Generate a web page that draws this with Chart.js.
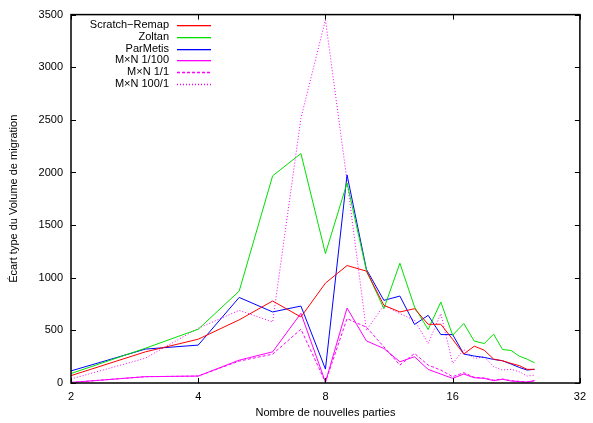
<!DOCTYPE html>
<html>
<head>
<meta charset="utf-8">
<script src="https://cdn.jsdelivr.net/npm/chart.js@4"></script>
<style>
  html, body { margin: 0; padding: 0; background: #fff; }
  canvas { display: block; }
</style>
</head>
<body>
<canvas id="chart" width="593" height="423"></canvas>
<script>
// Nombre de nouvelles parties (x, log2 axis)
const parts = [2, 3, 4, 5, 6, 7, 8, 9, 10, 11, 12, 13, 14, 15, 16, 17, 18, 19, 20, 21, 22, 23, 24, 25];

// Ecart type du volume de migration
const scratchRemap = [70, 296, 416, 600, 779, 627, 949, 1116, 1063, 738, 675, 706, 558, 558, 415, 275, 350, 312, 227, 211, 186, 165, 130, 130];
const zoltan       = [90, 330, 511, 873, 1968, 2180, 1230, 1900, 1069, 707, 1138, 722, 508, 769, 454, 565, 398, 375, 464, 318, 309, 255, 227, 192];
const parMetis     = [115, 322, 360, 813, 675, 731, 132, 1977, 1080, 785, 826, 556, 643, 460, 460, 275, 256, 243, 224, 211, 180, 148, 123, 130];
const mxn1_100     = [5, 60, 66, 217, 296, 662, 8, 712, 400, 328, 202, 249, 129, 85, 44, 85, 50, 44, 22, 35, 19, 13, 9, 22];
const mxn1_1       = [5, 60, 66, 208, 274, 511, 8, 612, 530, 344, 170, 281, 170, 123, 60, 98, 54, 47, 28, 38, 22, 16, 9, 22];
const mxn100_1     = [38, 236, 520, 690, 580, 2516, 3450, 1920, 500, 738, 660, 596, 375, 659, 186, 318, 233, 249, 155, 123, 130, 107, 66, 75];

const labels = ['Scratch\u2212Remap', 'Zoltan', 'ParMetis', 'M\u00d7N 1/100', 'M\u00d7N 1/1', 'M\u00d7N 100/1'];
const colors = ['#ff0000', '#00e000', '#0000ff', '#ff00ff', '#ff00ff', '#ff00ff'];
const dashes = [[], [], [], [], [3, 2], [1, 2]];

const xTicks = [2, 4, 8, 16, 32];
const yMin = 0, yMax = 3500, yStep = 500;

const FONT = '"Liberation Sans", Arial, Helvetica, sans-serif';

function pts(values) {
  return values.map((v, i) => ({ x: parts[i], y: v }));
}

function series(i, values) {
  return {
    label: labels[i],
    data: pts(values),
    borderColor: colors[i],
    backgroundColor: colors[i],
    borderWidth: 1,
    borderDash: dashes[i],
    pointRadius: 0,
    tension: 0,
    fill: false
  };
}

// gnuplot-like frame with inward, mirrored tics
const framePlugin = {
  id: 'frame',
  afterDraw(chart) {
    const { ctx, chartArea: a, scales } = chart;
    ctx.save();
    ctx.strokeStyle = '#000';
    ctx.lineWidth = 1;
    ctx.setLineDash([]);
    ctx.beginPath();
    scales.y.ticks.forEach(t => {
      const y = Math.round(scales.y.getPixelForValue(t.value)) + 0.5;
      ctx.moveTo(a.left, y); ctx.lineTo(a.left + 5, y);
      ctx.moveTo(a.right, y); ctx.lineTo(a.right - 5, y);
    });
    scales.x.ticks.forEach(t => {
      const x = Math.round(scales.x.getPixelForValue(t.value)) + 0.5;
      ctx.moveTo(x, a.bottom); ctx.lineTo(x, a.bottom - 5);
      ctx.moveTo(x, a.top); ctx.lineTo(x, a.top + 5);
    });
    ctx.stroke();
    ctx.lineWidth = 1.5;
    ctx.strokeRect(a.left, a.top, a.right - a.left, a.bottom - a.top);
    ctx.restore();
  }
};

// gnuplot-like key: text right aligned, sample on its right
const keyPlugin = {
  id: 'key',
  afterDraw(chart) {
    const { ctx, chartArea: a } = chart;
    ctx.save();
    ctx.font = '11px ' + FONT;
    ctx.textAlign = 'right';
    ctx.textBaseline = 'middle';
    labels.forEach((label, i) => {
      const y = a.top + 10.5 + i * 11.7;
      ctx.fillStyle = '#000';
      ctx.fillText(label, a.left + 98, y);
      const ly = Math.round(y);
      if (dashes[i].length === 0) {
        ctx.fillStyle = colors[i];
        ctx.fillRect(a.left + 106, ly, 34, 1.3);
      } else {
        ctx.beginPath();
        ctx.setLineDash(dashes[i]);
        ctx.lineWidth = 1.3;
        ctx.strokeStyle = colors[i];
        ctx.moveTo(a.left + 106, ly + 0.5);
        ctx.lineTo(a.left + 140, ly + 0.5);
        ctx.stroke();
      }
    });
    ctx.restore();
  }
};

new Chart(document.getElementById('chart'), {
  type: 'line',
  data: {
    datasets: [
      series(0, scratchRemap),
      series(1, zoltan),
      series(2, parMetis),
      series(3, mxn1_100),
      series(4, mxn1_1),
      series(5, mxn100_1)
    ]
  },
  options: {
    responsive: false,
    animation: false,
    layout: { padding: { top: 13, right: 8, left: 0, bottom: 0 } },
    plugins: {
      legend: { display: false },
      tooltip: { enabled: false }
    },
    scales: {
      x: {
        type: 'logarithmic',
        min: 2,
        max: 32,
        afterBuildTicks: s => { s.ticks = xTicks.map(v => ({ value: v })); },
        afterFit: s => { s.height = 40; },
        grid: { display: false, drawTicks: false },
        border: { display: false },
        ticks: {
          autoSkip: false,
          maxRotation: 0,
          padding: 7,
          color: '#000',
          font: { family: FONT, size: 11 },
          callback: v => String(v)
        },
        title: {
          display: true,
          text: 'Nombre de nouvelles parties',
          color: '#000',
          font: { family: FONT, size: 11 },
          padding: { top: 0, bottom: 3 }
        }
      },
      y: {
        min: yMin,
        max: yMax,
        afterFit: s => { s.width = 71; },
        grid: { display: false, drawTicks: false },
        border: { display: false },
        ticks: {
          stepSize: yStep,
          padding: 8,
          color: '#000',
          font: { family: FONT, size: 11 },
          callback: v => String(v)
        },
        title: {
          display: true,
          text: '\u00c9cart type du Volume de migration',
          color: '#000',
          font: { family: FONT, size: 11 },
          padding: { top: 7, bottom: 0 }
        }
      }
    }
  },
  plugins: [framePlugin, keyPlugin]
});
</script>
</body>
</html>
